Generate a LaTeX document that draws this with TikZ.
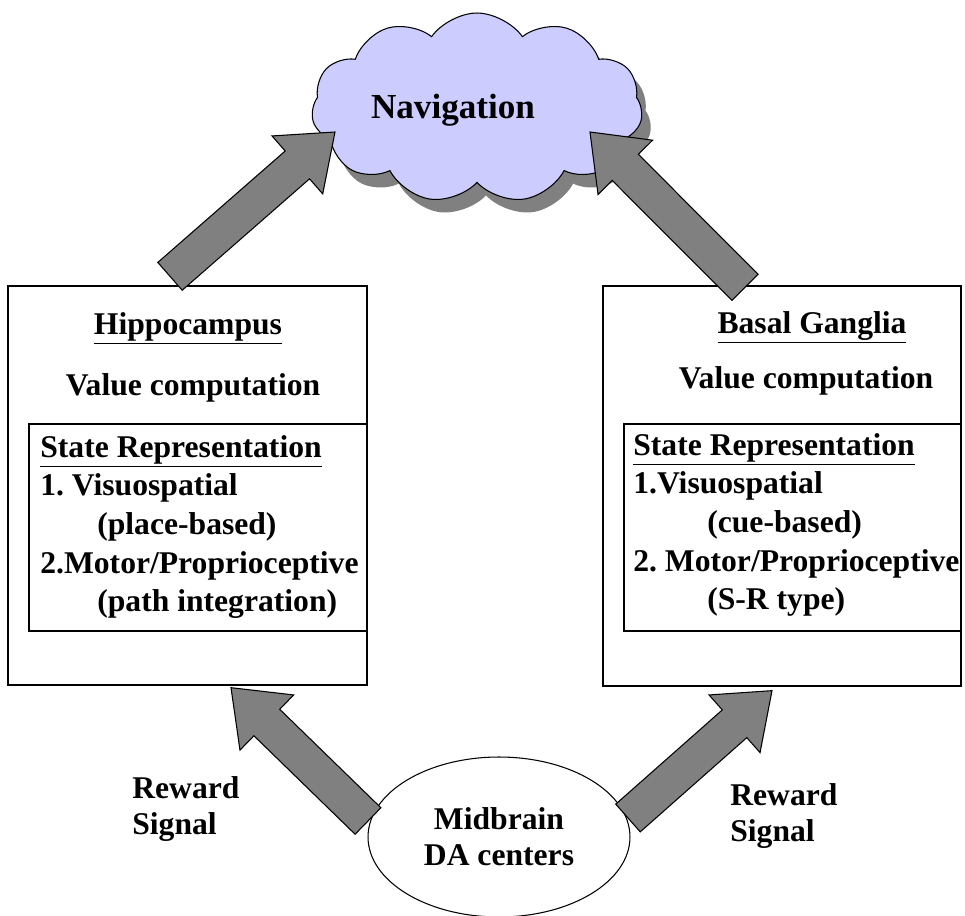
\documentclass[tikz,border=0pt]{standalone}
\usepackage{fontspec}
\setmainfont{Liberation Serif}
\usetikzlibrary{calc,shapes.geometric,shapes.symbols,shadows}

\definecolor{cloudblue}{RGB}{204,204,255}
\definecolor{arrowgray}{RGB}{128,128,128}

\tikzset{
  region/.style={draw, line width=0.8pt, inner sep=0pt},
  txt/.style={inner sep=0pt, align=left},
  twoline/.style={txt, font=\fontsize{18}{20.5}\selectfont\bfseries},
  fatarrow/.style={fill=arrowgray, draw=black, line width=0.6pt, line join=miter},
}

% block arrow from #1 (tail) to #2 (tip)
\newcommand{\blockarrow}[2]{%
  \coordinate (hb) at ($(#2)!1cm!(#1)$);
  \filldraw[fatarrow] ($(#1)!0.37cm!90:(#2)$) -- ($(hb)!0.37cm!90:(#2)$)
    -- ($(hb)!0.77cm!90:(#2)$) -- (#2) -- ($(hb)!0.77cm!-90:(#2)$)
    -- ($(hb)!0.37cm!-90:(#2)$) -- ($(#1)!0.37cm!-90:(#2)$) -- cycle;}

\begin{document}
\frenchspacing
\begin{tikzpicture}[x=0.02cm, y=-0.02cm, font=\fontsize{18}{22}\selectfont\bfseries]
\useasboundingbox (0,0) rectangle (965,916);

% hippocampus
\node[region, minimum width=7.18cm, minimum height=7.98cm] (hippo) at (187.5,485.5) {};
\node[region, minimum width=6.76cm, minimum height=4.14cm] (hipstate) at (198,527.5) {};
\node[txt, anchor=base] (hiptitle) at (188,334) {\underline{Hippocampus}};
\node[txt, anchor=base] (hipvalue) at (193,395) {Value computation};
\node[txt, anchor=north west] (hiplist) at (40,435) {\underline{State Representation}\\
  1. Visuospatial\\ \hspace*{1.14cm}(place-based)\\
  2.Motor/Proprioceptive\\ \hspace*{1.14cm}(path integration)};

% basal ganglia
\node[region, minimum width=7.16cm, minimum height=8cm] (basal) at (782,486) {};
\node[region, minimum width=6.74cm, minimum height=4.14cm] (basalstate) at (792.5,527.5) {};
\node[txt, anchor=base] (basaltitle) at (812,333) {\underline{Basal Ganglia}};
\node[txt, anchor=base] (basalvalue) at (806,388) {Value computation};
\node[txt, anchor=north west] (basallist) at (633,433) {\underline{State Representation}\\
  1.Visuospatial\\ \hspace*{1.48cm}(cue-based)\\
  2. Motor/Proprioceptive\\ \hspace*{1.48cm}(S-R type)};

% navigation cloud
\node[cloud, cloud puffs=11, cloud puff arc=110, draw, line width=0.6pt, fill=cloudblue,
  minimum width=6.62cm, minimum height=3.8cm,
  drop shadow={shadow xshift=0.18cm, shadow yshift=-0.26cm, fill=arrowgray, opacity=1}] (nav) at (477,108) {};
\node[txt, anchor=base, font=\fontsize{20}{24}\selectfont\bfseries] (navtext) at (453,118) {Navigation};

% midbrain
\node[ellipse, draw, line width=0.6pt, twoline, align=center,
  minimum width=5.24cm, minimum height=3.2cm] (da) at (499,837) {Midbrain\\DA centers};
\node[twoline, anchor=north west] (rewleft) at (132,776) {Reward\\Signal};
\node[twoline, anchor=north west] (rewright) at (730,783) {Reward\\Signal};

% arrow ends
\coordinate (hipup) at ($(hippo.north)+(-17.5,-9)$);
\coordinate (navleft) at ($(nav.center)+(-142,24)$);
\coordinate (basalup) at ($(basal.north)+(-37,2)$);
\coordinate (navright) at ($(nav.center)+(113,24)$);
\coordinate (dahip) at ($(da.center)+(-131,-16)$);
\coordinate (hipdown) at ($(hippo.south)+(43.5,2)$);
\coordinate (dabasal) at ($(da.center)+(129,-19)$);
\coordinate (basaldown) at ($(basal.south)+(-10,4)$);

\blockarrow{hipup}{navleft}
\blockarrow{basalup}{navright}
\blockarrow{dahip}{hipdown}
\blockarrow{dabasal}{basaldown}
\end{tikzpicture}
\end{document}
